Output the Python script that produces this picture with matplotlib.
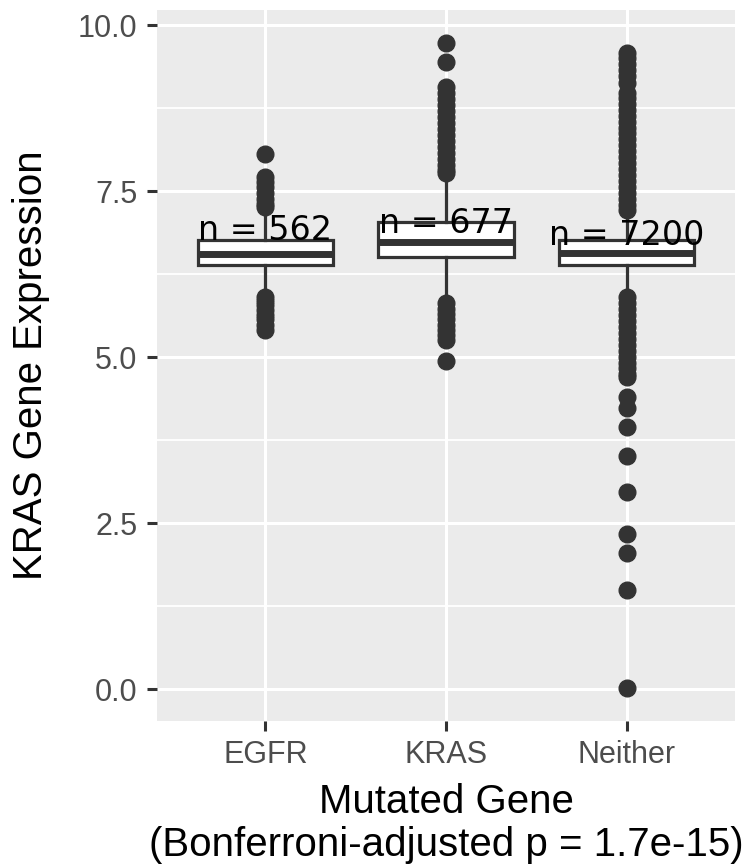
import matplotlib
matplotlib.use("Agg")
import matplotlib.pyplot as plt

plt.rcParams['font.family'] = ['Liberation Sans', 'DejaVu Sans']

# group summaries
groups = ['EGFR', 'KRAS', 'Neither']
counts = [562, 677, 7200]
q1 = [6.39, 6.51, 6.39]
med = [6.55, 6.73, 6.57]
q3 = [6.76, 7.03, 6.76]
whis_lo = [5.96, 5.90, 5.93]
whis_hi = [7.21, 7.67, 7.18]

# outliers
egfr_out = [8.06, 7.71, 7.64, 7.56, 7.47, 7.39, 7.31, 7.26,
            5.90, 5.84, 5.78, 5.71, 5.64, 5.57, 5.49, 5.41]
kras_out = [9.74, 9.44, 9.07, 8.98, 8.89, 8.80, 8.71, 8.62, 8.53, 8.44,
            8.35, 8.26, 8.17, 8.08, 7.99, 7.90, 7.82, 7.77,
            5.81, 5.73, 5.65, 5.57, 5.49, 5.41, 5.33, 5.26, 4.95]
neither_out = [9.58, 9.50, 9.42, 9.33, 9.24, 9.13, 8.98, 8.90, 8.81, 8.72,
               8.63, 8.55, 8.46, 8.37, 8.28, 8.19, 8.10, 8.01, 7.92, 7.83,
               7.74, 7.65, 7.56, 7.47, 7.38, 7.30, 7.21,
               5.90, 5.82, 5.73, 5.64, 5.55, 5.46, 5.37, 5.28, 5.19, 5.10,
               5.01, 4.92, 4.83, 4.74, 4.70, 4.40, 4.23, 3.95, 3.51, 2.97,
               2.33, 2.05, 1.49, 0.01]
outliers = [egfr_out, kras_out, neither_out]

# baseline of the "n = ..." labels
label_y = [6.76, 6.87, 6.69]

stats = []
for i in range(len(groups)):
    stats.append({'label': groups[i], 'q1': q1[i], 'med': med[i], 'q3': q3[i],
                  'whislo': whis_lo[i], 'whishi': whis_hi[i], 'fliers': outliers[i]})

dark = '#333333'
fig = plt.figure(figsize=(7.52, 8.66), dpi=100)
ax = fig.add_axes([157/752, 1-721/866, (735-157)/752, (721-10)/866])
ax.set_facecolor('#EBEBEB')

pos = list(range(1, len(groups)+1))
ax.bxp(stats, positions=pos, widths=0.75, patch_artist=True, showcaps=False,
       boxprops=dict(facecolor='white', edgecolor=dark, linewidth=2.3),
       medianprops=dict(color=dark, linewidth=5, solid_capstyle='butt'),
       whiskerprops=dict(color=dark, linewidth=2.3),
       flierprops=dict(marker='o', markerfacecolor=dark, markeredgecolor=dark,
                       markersize=12, linestyle='none'),
       zorder=3)

for i in range(len(groups)):
    ax.text(pos[i], label_y[i], f'n = {counts[i]}', ha='center', va='baseline',
            fontsize=24, family='DejaVu Sans', color='black', zorder=5)

ax.set_xlim(0.4, 3.6)
ax.set_ylim(-0.48, 10.23)
ax.set_xticks(pos)
ax.set_xticklabels(groups)
ax.set_yticks([0, 2.5, 5, 7.5, 10])
ax.set_yticklabels(['0.0', '2.5', '5.0', '7.5', '10.0'])
ax.set_yticks([1.25, 3.75, 6.25, 8.75], minor=True)
ax.grid(which='major', color='white', linewidth=2.2, zorder=0)
ax.grid(which='minor', axis='y', color='white', linewidth=1.3, zorder=0)
ax.set_axisbelow(True)
for s in ax.spines.values():
    s.set_visible(False)
ax.tick_params(which='major', length=7, width=2.2, color=dark,
               labelcolor='#4D4D4D', labelsize=22, pad=7)
ax.tick_params(which='minor', length=0)

ax.set_ylabel('KRAS Gene Expression', fontsize=29, labelpad=20)
ax.set_xlabel('Mutated Gene\n(Bonferroni-adjusted p = 1.7e-15)', fontsize=29,
              labelpad=9, linespacing=1.17)

fig.savefig('out.png', dpi=100)
